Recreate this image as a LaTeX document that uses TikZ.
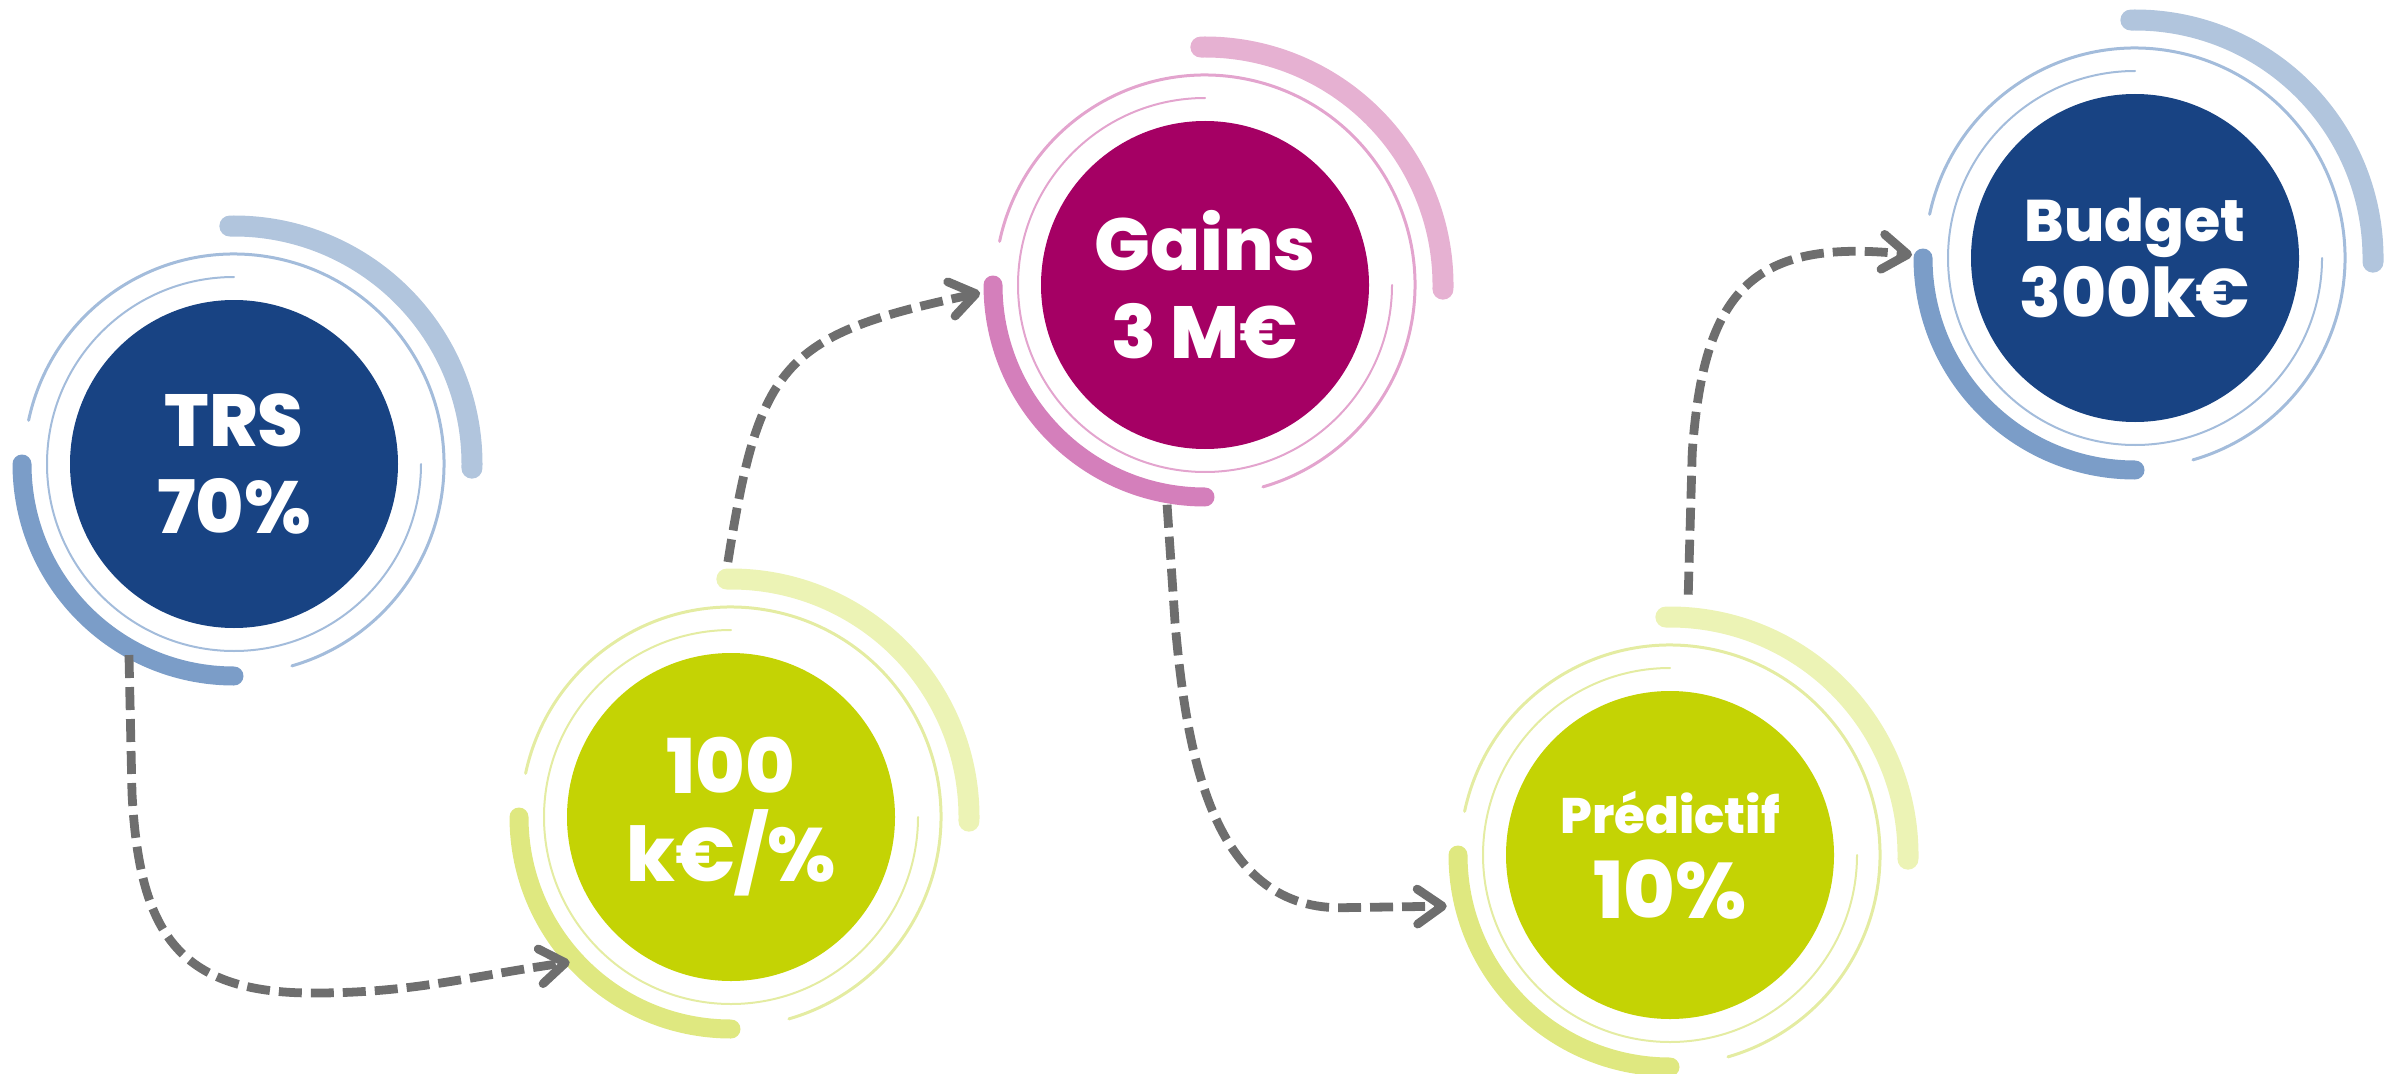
\documentclass[tikz,border=0pt]{standalone}
\usepackage{fontspec}
\setmainfont{Poppins}[BoldFont={Poppins ExtraBold}]
\usetikzlibrary{arrows.meta}

\definecolor{navy}{HTML}{184383}
\definecolor{navylight}{HTML}{B1C5DD}
\definecolor{navymid}{HTML}{7B9DC8}
\definecolor{navythin}{HTML}{A3BCDB}
\definecolor{berry}{HTML}{A50064}
\definecolor{berrylight}{HTML}{E6B1D2}
\definecolor{berrymid}{HTML}{D47FBB}
\definecolor{berrythin}{HTML}{E3A4CE}
\definecolor{lime}{HTML}{C4D304}
\definecolor{limelight}{HTML}{ECF3B5}
\definecolor{limemid}{HTML}{DFE880}
\definecolor{limethin}{HTML}{E4ECA2}
\definecolor{flowgray}{HTML}{6E6E6E}

\begin{document}
\begin{tikzpicture}[
			disk/.style={circle, minimum size=3.28cm, inner sep=0pt, text=white, align=center},
			outerarc/.style={line width=0.21cm, line cap=round},
			innerarc/.style={line width=0.19cm, line cap=round},
			outring/.style={line width=0.03cm, line cap=round},
			inring/.style={line width=0.02cm, line cap=round},
			flow/.style={draw=flowgray, line width=2.5pt, dash pattern=on 2.3mm off 0.9mm,
				-{Straight Barb[length=2.5mm, width=3.5mm, round]}}
			]
			\useasboundingbox (0,0) rectangle (24.05,10.73);
			
			% Stages
			\node[disk, fill=navy, font=\bfseries\fontsize{21}{24.7}\selectfont] (trs) at (2.34,6.09) {TRS\\70\%};
			\node[disk, fill=lime, font=\bfseries\fontsize{21.5}{25}\selectfont] (cost) at (7.31,2.56) {100\\k€/\%};
			\node[disk, fill=berry, font=\bfseries\fontsize{21}{25}\selectfont] (gains) at (12.05,7.88) {Gains\\3 M€};
			\node[disk, fill=lime, font=\bfseries\fontsize{22.4}{24.2}\selectfont] (pred) at (16.70,2.18) {{\fontsize{14.2}{17}\selectfont Prédictif}\\10\%};
			\node[disk, fill=navy, font=\bfseries\fontsize{19.5}{21.9}\selectfont] (budget) at (21.35,8.15) {{\fontsize{16.7}{20}\selectfont Budget}\\300k€};
			
			% Rings round TRS
			\draw[outerarc, draw=navylight] ([shift={(91:2.38)}]trs.center) arc[start angle=91, end angle=-1, radius=2.38];
			\draw[outring, draw=navythin] ([shift={(168:2.10)}]trs.center) arc[start angle=168, end angle=-74, radius=2.10];
			\draw[innerarc, draw=navymid] ([shift={(180:2.12)}]trs.center) arc[start angle=180, end angle=270, radius=2.12];
			\draw[inring, draw=navythin] ([shift={(90:1.87)}]trs.center) arc[start angle=90, end angle=360, radius=1.87];
			
			% Rings round 100 k€/%
			\draw[outerarc, draw=limelight] ([shift={(91:2.38)}]cost.center) arc[start angle=91, end angle=-1, radius=2.38];
			\draw[outring, draw=limethin] ([shift={(168:2.10)}]cost.center) arc[start angle=168, end angle=-74, radius=2.10];
			\draw[innerarc, draw=limemid] ([shift={(180:2.12)}]cost.center) arc[start angle=180, end angle=270, radius=2.12];
			\draw[inring, draw=limethin] ([shift={(90:1.87)}]cost.center) arc[start angle=90, end angle=360, radius=1.87];
			
			% Rings round Gains
			\draw[outerarc, draw=berrylight] ([shift={(91:2.38)}]gains.center) arc[start angle=91, end angle=-1, radius=2.38];
			\draw[outring, draw=berrythin] ([shift={(168:2.10)}]gains.center) arc[start angle=168, end angle=-74, radius=2.10];
			\draw[innerarc, draw=berrymid] ([shift={(180:2.12)}]gains.center) arc[start angle=180, end angle=270, radius=2.12];
			\draw[inring, draw=berrythin] ([shift={(90:1.87)}]gains.center) arc[start angle=90, end angle=360, radius=1.87];
			
			% Rings round Predictif
			\draw[outerarc, draw=limelight] ([shift={(91:2.38)}]pred.center) arc[start angle=91, end angle=-1, radius=2.38];
			\draw[outring, draw=limethin] ([shift={(168:2.10)}]pred.center) arc[start angle=168, end angle=-74, radius=2.10];
			\draw[innerarc, draw=limemid] ([shift={(180:2.12)}]pred.center) arc[start angle=180, end angle=270, radius=2.12];
			\draw[inring, draw=limethin] ([shift={(90:1.87)}]pred.center) arc[start angle=90, end angle=360, radius=1.87];
			
			% Rings round Budget
			\draw[outerarc, draw=navylight] ([shift={(91:2.38)}]budget.center) arc[start angle=91, end angle=-1, radius=2.38];
			\draw[outring, draw=navythin] ([shift={(168:2.10)}]budget.center) arc[start angle=168, end angle=-74, radius=2.10];
			\draw[innerarc, draw=navymid] ([shift={(180:2.12)}]budget.center) arc[start angle=180, end angle=270, radius=2.12];
			\draw[inring, draw=navythin] ([shift={(90:1.87)}]budget.center) arc[start angle=90, end angle=360, radius=1.87];
			
			% Ends of the dashed arrows
			\coordinate (trs-out) at ([shift={(241.2:2.18)}]trs.center);
			\coordinate (cost-in) at ([shift={(222:2.17)}]cost.center);
			\coordinate (cost-out) at ([shift={(90.7:2.55)}]cost.center);
			\coordinate (gains-in) at ([shift={(182:2.25)}]gains.center);
			\coordinate (gains-out) at ([shift={(260.2:2.23)}]gains.center);
			\coordinate (pred-in) at ([shift={(192.9:2.29)}]pred.center);
			\coordinate (pred-out) at ([shift={(86:2.61)}]pred.center);
			\coordinate (budget-in) at ([shift={(179.2:2.23)}]budget.center);
			
			% TRS -> 100 -> Gains -> Predictif -> Budget
			\draw[flow] (trs-out) -- ++(0.03,-1.38) to[out=-87, in=180, looseness=1.3] ++(1.81,-2.0) to[out=0, in=188] (cost-in);
			\draw[flow] (cost-out) to[out=81, in=192, looseness=1.4] (gains-in);
			\draw[flow] (gains-out) -- ++(0.08,-1.18) to[out=-85, in=180] ++(1.65,-2.85) -- (pred-in);
			\draw[flow] (pred-out) -- ++(0.04,1.42) to[out=86, in=174, looseness=1.4] (budget-in);
		\end{tikzpicture}
\end{document}
